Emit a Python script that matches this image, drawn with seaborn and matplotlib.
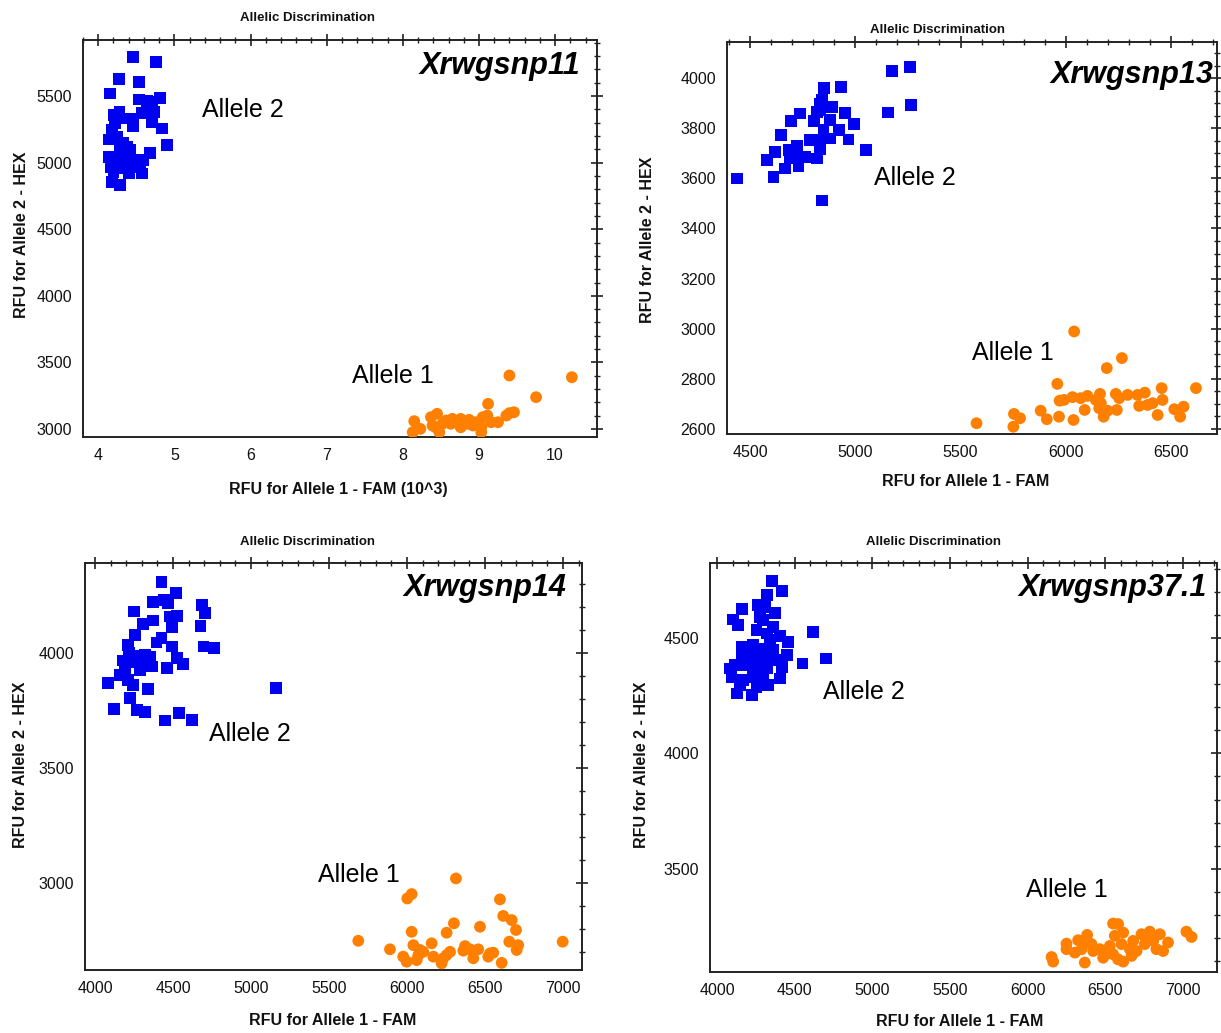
import numpy as np
import pandas as pd
import matplotlib
matplotlib.use("Agg")
import matplotlib.pyplot as plt
from matplotlib.ticker import MultipleLocator
import seaborn as sns

# ---------------- data ----------------
# Xrwgsnp11 (x in thousands)
p1_a2_x = [4.46, 4.76, 4.27, 4.54, 4.15, 4.54, 4.64, 4.81, 4.71, 4.20, 4.28, 4.38, 4.46, 4.57,
           4.73, 4.22, 4.46, 4.71, 4.84, 4.14, 4.18, 4.29, 4.38, 4.90, 4.14, 4.29, 4.40, 4.44,
           4.68, 4.16, 4.33, 4.55, 4.57, 4.40, 4.18, 4.29, 4.20, 4.27, 4.51, 4.33, 4.42, 4.25, 4.59]
p1_a2_y = [5791, 5756, 5630, 5608, 5520, 5475, 5465, 5487, 5457, 5357, 5382, 5332, 5332, 5370,
           5382, 5295, 5274, 5307, 5257, 5174, 5244, 5119, 5119, 5132, 5044, 5056, 5044, 4994,
           5074, 4968, 4956, 4968, 4919, 4919, 4856, 4831, 4931, 4994, 5019, 5150, 5094, 5190, 5019]
p1_a1_x = [9.40, 10.22, 9.75, 9.12, 9.46, 8.15, 8.13, 8.23, 8.37, 8.45, 8.43, 8.48, 8.57, 8.65,
           8.63, 8.76, 8.85, 8.87, 8.96, 9.03, 9.03, 9.05, 9.11, 9.16, 9.25, 9.36, 9.40, 8.76,
           8.52, 8.39, 8.92]
p1_a1_y = [3402, 3389, 3239, 3189, 3126, 3059, 2976, 3001, 3089, 3114, 3013, 2976, 3064, 3076,
           3039, 3013, 3039, 3069, 3051, 3013, 2976, 3089, 3101, 3051, 3051, 3101, 3119, 3076,
           3039, 3026, 3026]

# Xrwgsnp13
p2_a2_x = [5175, 5259, 5265, 5154, 4852, 4932, 4841, 4833, 4889, 4952, 4992, 4738, 4694, 4802,
           4881, 4921, 4881, 4968, 5052, 4646, 4619, 4579, 4683, 4722, 4690, 4730, 4667, 4611,
           4762, 4786, 4825, 4817, 4833, 4437, 4841, 4849, 4817, 4738, 4833]
p2_a2_y = [4029, 4043, 3892, 3863, 3959, 3965, 3915, 3872, 3885, 3861, 3816, 3859, 3829, 3829,
           3832, 3792, 3759, 3755, 3712, 3772, 3705, 3672, 3712, 3728, 3679, 3648, 3639, 3605,
           3685, 3752, 3752, 3679, 3715, 3599, 3512, 3792, 3865, 3685, 3899]
p2_a1_x = [6040, 6267, 6195, 5960, 5576, 5751, 5754, 5783, 5881, 5910, 5968, 6037, 5971, 5992,
           6032, 6071, 6103, 6090, 6143, 6163, 6167, 6159, 6180, 6199, 6243, 6238, 6254, 6294,
           6341, 6376, 6349, 6389, 6413, 6437, 6456, 6460, 6516, 6544, 6560, 6619]
p2_a1_y = [2989, 2883, 2843, 2780, 2623, 2609, 2660, 2643, 2673, 2639, 2649, 2636, 2713, 2716,
           2727, 2723, 2732, 2676, 2716, 2740, 2703, 2683, 2649, 2673, 2676, 2740, 2723, 2736,
           2736, 2745, 2692, 2696, 2703, 2656, 2763, 2716, 2679, 2649, 2689, 2763]

# Xrwgsnp14
p3_a2_x = [4427, 4519, 4374, 4442, 4470, 4250, 4684, 4705, 4481, 4528, 4374, 4310, 4492, 4677,
           4256, 4427, 4395, 4492, 4695, 4763, 4214, 4220, 4267, 4321, 4353, 4182, 4235, 4288,
           4363, 4524, 4566, 4463, 4160, 4214, 4085, 4246, 4342, 4224, 5160, 4122, 4267, 4321,
           4449, 4540, 4620, 4288, 4192]
p3_a2_y = [4310, 4260, 4223, 4230, 4216, 4180, 4209, 4173, 4158, 4161, 4141, 4126, 4114, 4117,
           4078, 4064, 4045, 4028, 4028, 4020, 4035, 3999, 3987, 3991, 3981, 3967, 3962, 3955,
           3941, 3977, 3952, 3933, 3904, 3883, 3868, 3861, 3842, 3803, 3846, 3755, 3752, 3745,
           3706, 3738, 3709, 3926, 3926]
p3_a1_x = [6314, 6002, 6030, 6596, 6617, 6671, 6699, 6301, 6254, 6030, 6468, 5688, 5891, 6041,
           6083, 6158, 5976, 5998, 6062, 6104, 6169, 6222, 6254, 6276, 6372, 6361, 6404, 6457,
           6425, 6532, 6553, 6521, 6607, 6656, 6713, 6703, 6998, 6073, 6233]
p3_a1_y = [3020, 2933, 2952, 2929, 2857, 2839, 2796, 2825, 2784, 2788, 2810, 2749, 2712, 2730,
           2709, 2738, 2680, 2658, 2665, 2701, 2680, 2651, 2687, 2701, 2726, 2706, 2712, 2712,
           2673, 2694, 2697, 2680, 2653, 2745, 2730, 2709, 2745, 2687, 2673]

# Xrwgsnp37.1
p4_a2_x = [4352, 4416, 4320, 4266, 4309, 4159, 4373, 4105, 4137, 4298, 4255, 4405, 4320, 4616,
           4341, 4159, 4234, 4288, 4362, 4212, 4277, 4341, 4449, 4395, 4116, 4191, 4255, 4320,
           4416, 4551, 4701, 4094, 4169, 4234, 4298, 4405, 4127, 4223, 4330, 4148, 4255, 4159,
           4084, 4277, 4362, 4459]
p4_a2_y = [4749, 4706, 4687, 4643, 4636, 4625, 4610, 4581, 4557, 4578, 4535, 4509, 4520, 4527,
           4491, 4462, 4470, 4455, 4448, 4426, 4419, 4419, 4426, 4404, 4383, 4383, 4375, 4368,
           4375, 4390, 4412, 4332, 4317, 4332, 4332, 4325, 4260, 4252, 4296, 4296, 4288, 4419,
           4368, 4593, 4549, 4484]
p4_a1_x = [6154, 6164, 6250, 6250, 6325, 6304, 6383, 6389, 6347, 6368, 6422, 6465, 6508, 6550,
           6582, 6561, 6529, 6550, 6615, 6604, 6582, 6615, 6658, 6679, 6701, 6733, 6754, 6786,
           6808, 6829, 6851, 6872, 6904, 7022, 7055, 6765, 6669, 6486, 6411]
p4_a1_y = [3117, 3097, 3175, 3151, 3190, 3136, 3213, 3180, 3151, 3093, 3143, 3151, 3132, 3262,
           3260, 3209, 3165, 3129, 3223, 3173, 3107, 3097, 3151, 3187, 3143, 3216, 3173, 3227,
           3187, 3151, 3216, 3143, 3180, 3227, 3204, 3201, 3122, 3114, 3173]

snp_names = ["Xrwgsnp11", "Xrwgsnp13", "Xrwgsnp14", "Xrwgsnp37.1"]
x_labels = ["RFU for Allele 1 - FAM (10^3)", "RFU for Allele 1 - FAM",
            "RFU for Allele 1 - FAM", "RFU for Allele 1 - FAM"]
y_label = "RFU for Allele 2 - HEX"
title_text = "Allelic Discrimination"

panels = [
    (p1_a1_x, p1_a1_y, p1_a2_x, p1_a2_y),
    (p2_a1_x, p2_a1_y, p2_a2_x, p2_a2_y),
    (p3_a1_x, p3_a1_y, p3_a2_x, p3_a2_y),
    (p4_a1_x, p4_a1_y, p4_a2_x, p4_a2_y),
]

# ---------------- layout / style ----------------
W, H = 1221, 1033
sns.set_style("white")
plt.rcParams["font.family"] = ["Liberation Sans", "DejaVu Sans"]
arial = ["Liberation Sans", "DejaVu Sans"]

fig = plt.figure(figsize=(W / 100, H / 100), dpi=100)

# pixel boxes: left, right, top, bottom
boxes = [(83, 597, 40, 437), (727, 1217, 42, 434), (85, 582, 563, 970), (710, 1217, 563, 972)]
xlims = [(3.80, 10.55), (4390, 6719), (3936, 7122), (3955, 7219)]
ylims = [(2940, 5921), (2580, 4144), (2622, 4391), (3052, 4826)]
xmaj = [1, 500, 500, 500]
xmin = [0.2, 100, 100, 100]
ymaj = [500, 200, 500, 500]
ymin = [100, 50, 100, 100]
title_pos = [(307, 18), (938, 30), (307, 542), (934, 542)]
snp_pos = [(0.967, 0.934), (0.992, 0.916), (0.968, 0.939), (0.980, 0.939)]
a2_pos = [(0.2315, 0.824), (0.300, 0.653), (0.2495, 0.580), (0.223, 0.685)]
a1_pos = [(0.523, 0.154), (0.500, 0.207), (0.469, 0.233), (0.623, 0.200)]
xlab_pos = [(0.496, -0.1335), (0.488, -0.120), (0.499, -0.123), (0.493, -0.122)]
ylab_pos = [(-0.120, 0.509), (-0.163, 0.495), (-0.130, 0.504), (-0.136, 0.506)]

blue = "#0000F0"
orange = "#FF8000"

for i, (a1x, a1y, a2x, a2y) in enumerate(panels):
    l, r, t, b = boxes[i]
    ax = fig.add_axes([l / W, 1 - b / H, (r - l) / W, (b - t) / H])
    df = pd.DataFrame({
        "x": list(a1x) + list(a2x),
        "y": list(a1y) + list(a2y),
        "allele": ["Allele 1"] * len(a1x) + ["Allele 2"] * len(a2x),
    })
    sns.scatterplot(data=df, x="x", y="y", hue="allele", style="allele",
                    markers={"Allele 1": "o", "Allele 2": "s"},
                    palette={"Allele 1": orange, "Allele 2": blue},
                    s=72, linewidth=0, edgecolor="none", legend=False, ax=ax, zorder=3)
    ax.set_xlim(*xlims[i])
    ax.set_ylim(*ylims[i])
    ax.xaxis.set_major_locator(MultipleLocator(xmaj[i]))
    ax.xaxis.set_minor_locator(MultipleLocator(xmin[i]))
    ax.yaxis.set_major_locator(MultipleLocator(ymaj[i]))
    ax.yaxis.set_minor_locator(MultipleLocator(ymin[i]))
    if i == 0:
        ax.set_xticks(range(4, 11))
        ax.set_xticklabels([str(v) for v in range(4, 11)])
    for sp in ax.spines.values():
        sp.set_visible(True)
        sp.set_color("#222222")
        sp.set_linewidth(1.4)
    ax.tick_params(which="major", direction="inout", length=8, width=1.2, color="#222222",
                   labelsize=11.5, pad=4, top=True, right=True)
    ax.tick_params(which="minor", direction="inout", length=5, width=1.0, color="#222222",
                   top=True, right=True)
    for lab in ax.get_xticklabels() + ax.get_yticklabels():
        lab.set_color("#111111")
    ax.set_xlabel(x_labels[i], fontsize=11.5, fontweight="bold",
                  va="center", ha="center", color="#111111")
    ax.set_ylabel(y_label, fontsize=11.5, fontweight="bold",
                  va="center", ha="center", color="#111111")
    ax.xaxis.set_label_coords(*xlab_pos[i])
    ax.yaxis.set_label_coords(*ylab_pos[i])
    ax.text(*snp_pos[i], snp_names[i], transform=ax.transAxes, ha="right", va="center",
            fontsize=22, fontweight="bold", fontstyle="italic", family=arial, color="black")
    ax.text(*a2_pos[i], "Allele 2", transform=ax.transAxes, ha="left", va="center",
            fontsize=18, family=arial, color="black")
    ax.text(*a1_pos[i], "Allele 1", transform=ax.transAxes, ha="left", va="center",
            fontsize=18, family=arial, color="black")
    tx, ty = title_pos[i]
    fig.text(tx / W, 1 - ty / H, title_text, ha="center", va="center", fontsize=9.5,
             fontweight="bold", color="#111111")

fig.savefig("out.png", dpi=100, facecolor="white")
